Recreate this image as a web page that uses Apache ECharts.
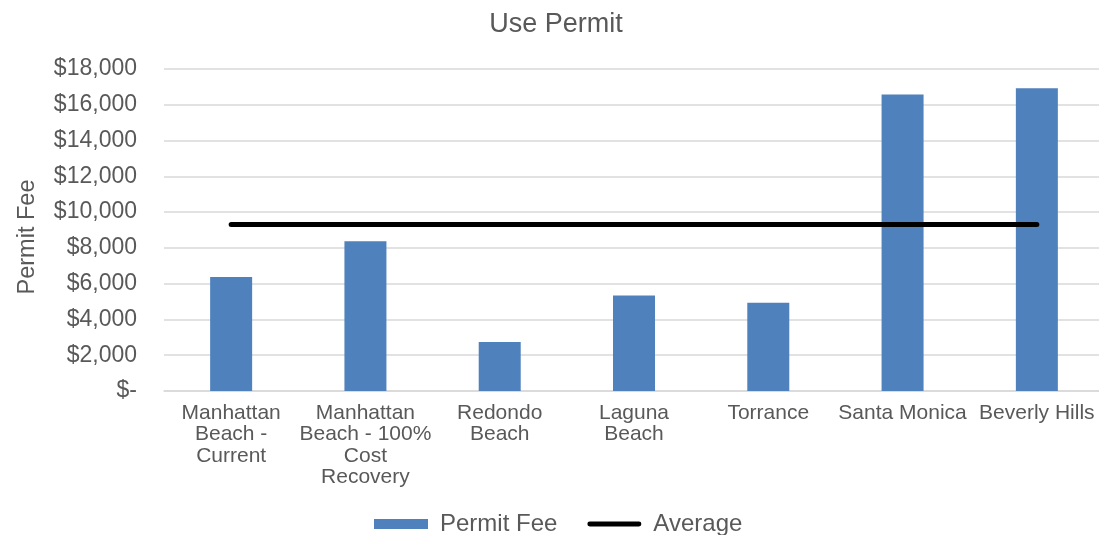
<!DOCTYPE html>
<html>
<head>
<meta charset="utf-8">
<script src="https://cdn.jsdelivr.net/npm/echarts@6/dist/echarts.min.js"></script>
<style>
html,body{margin:0;padding:0;background:#fff;}
#chart{width:1099px;height:535px;}
</style>
</head>
<body>
<div id="chart"></div>
<script>
var categories = ["Manhattan Beach - Current", "Manhattan Beach - 100% Cost Recovery", "Redondo Beach", "Laguna Beach", "Torrance", "Santa Monica", "Beverly Hills"];
var categoryLabels = ["Manhattan\nBeach -\nCurrent", "Manhattan\nBeach - 100%\nCost\nRecovery", "Redondo\nBeach", "Laguna\nBeach", "Torrance", "Santa Monica", "Beverly Hills"];
var permitFee = [6375, 8370, 2745, 5345, 4935, 16580, 16920];
var averageValue = 9305;
var average = categories.map(function(){ return averageValue; });
var yTicks = [0, 2000, 4000, 6000, 8000, 10000, 12000, 14000, 16000, 18000];

var chart = echarts.init(document.getElementById('chart'));
var font = "'Liberation Sans', Arial, sans-serif";
function fmt(v){
  if (v === 0) return '$-';
  return '$' + v.toString().replace(/\B(?=(\d{3})+(?!\d))/g, ',');
}
chart.setOption({
  animation: false,
  textStyle: {fontFamily: font},
  title: {
    text: 'Use Permit',
    left: 551, top: 6, textAlign: 'center',
    textStyle: {fontFamily: font, fontSize: 27, fontWeight: 'normal', color: '#595959'}
  },
  legend: {
    top: 507, left: 369,
    itemWidth: 54, itemHeight: 10, itemGap: 30,
    textStyle: {fontFamily: font, fontSize: 24, color: '#595959', padding: [0, 0, 0, 7]},
    data: [
      {name: 'Permit Fee', icon: 'rect'},
      {name: 'Average', icon: 'path://M2.5,0H53.5A2.5,2.5,0,0,1,53.5,5H2.5A2.5,2.5,0,0,1,2.5,0Z'}
    ]
  },
  grid: {left: 164, top: 69, width: 940, height: 322, containLabel: false, outerBoundsMode: 'none'},
  xAxis: {
    type: 'category',
    data: categories,
    axisLine: {lineStyle: {color: '#d9d9d9', width: 1.5}},
    axisTick: {show: false},
    axisLabel: {
      interval: 0, margin: 11, hideOverlap: false,
      fontFamily: font, fontSize: 21, color: '#595959', lineHeight: 21.5,
      formatter: function(v, i){ return categoryLabels[i]; }
    }
  },
  yAxis: {
    type: 'value', min: yTicks[0], max: yTicks[yTicks.length-1], interval: 2000,
    name: 'Permit Fee', nameLocation: 'middle', nameGap: 124, nameRotate: 90,
    nameTextStyle: {fontFamily: font, fontSize: 23.5, color: '#595959', padding: [0, 0, 0, -14]},
    axisLine: {show: false}, axisTick: {show: false},
    splitLine: {lineStyle: {color: '#d9d9d9', width: 1.5}},
    axisLabel: {margin: 27, fontFamily: font, fontSize: 23, color: '#595959', formatter: fmt}
  },
  series: [
    {
      name: 'Permit Fee', type: 'bar', data: permitFee, barWidth: 42,
      itemStyle: {color: '#4f81bd'}
    },
    {
      name: 'Average', type: 'line', data: average, symbol: 'none',
      lineStyle: {color: '#000', width: 5, cap: 'round'},
      itemStyle: {color: '#000'}
    }
  ]
});
</script>
</body>
</html>
